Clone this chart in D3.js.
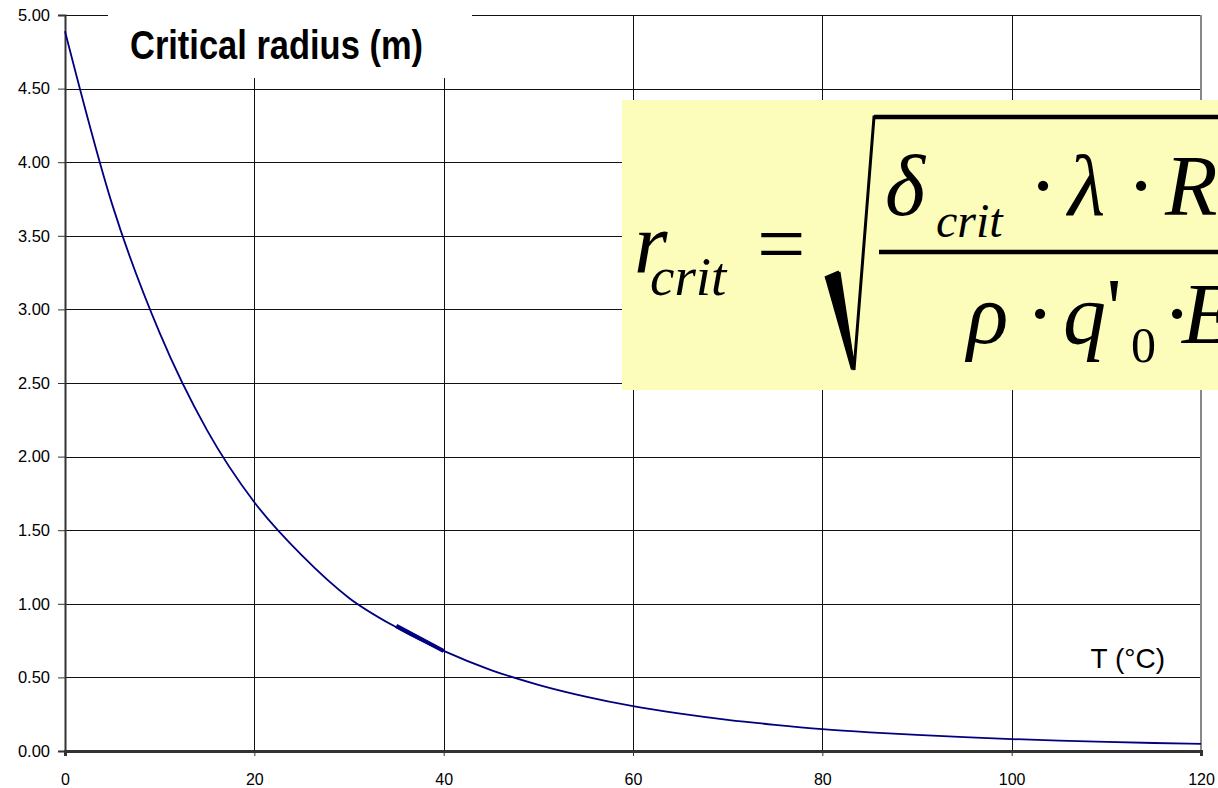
<!DOCTYPE html>
<html>
<head>
<meta charset="utf-8">
<script src="https://cdn.jsdelivr.net/npm/d3@7"></script>
<style>
  html, body { margin: 0; padding: 0; background: #fff; }
  svg { display: block; }
</style>
</head>
<body>
<div id="chart"></div>
<script>
// temperature (°C) and critical radius (m), every 5 degrees
const temps = [0, 5, 10, 15, 20, 25, 30, 35, 40, 45, 50, 55, 60, 65, 70, 75, 80, 85, 90, 95, 100, 105, 110, 115, 120]
const radius = [4.89, 3.71, 2.84, 2.18, 1.69, 1.33, 1.04, 0.84, 0.68, 0.55, 0.45, 0.37, 0.305, 0.254, 0.212, 0.178, 0.149, 0.127, 0.109, 0.094, 0.081, 0.0706, 0.062, 0.0545, 0.048]
// short overlapping segment that shows up bolder between 35 and 40
const segTemps = [35, 40]
const segRadius = [0.85, 0.68]

const xTicks = [0, 20, 40, 60, 80, 100, 120]
const yTicks = [0, 0.5, 1, 1.5, 2, 2.5, 3, 3.5, 4, 4.5, 5]

const width = 1218, height = 788
const margin = {left: 65, right: 17, top: 15, bottom: 37}

const svg = d3.select('#chart').append('svg')
  .attr('width', width)
  .attr('height', height)
  .style('font-family', '"Liberation Sans", Arial, sans-serif')

const x = d3.scaleLinear()
  .domain([0, 120])
  .range([margin.left, width - margin.right])

const y = d3.scaleLinear()
  .domain([0, 5])
  .range([height - margin.bottom, margin.top])

// gridlines
const grid = svg.append('g').attr('class', 'grid')
grid.selectAll('.hgrid')
  .data(yTicks.filter(d => d > 0))
  .join('line')
  .attr('x1', x(0))
  .attr('x2', x(120))
  .attr('y1', d => Math.round(y(d)) + 0.5)
  .attr('y2', d => Math.round(y(d)) + 0.5)
  .attr('stroke', '#111')
  .attr('stroke-width', 1)

grid.selectAll('.vgrid')
  .data(xTicks.filter(d => d > 0 && d < 120))
  .join('line')
  .attr('x1', d => Math.round(x(d)) + 0.5)
  .attr('x2', d => Math.round(x(d)) + 0.5)
  .attr('y1', y(5))
  .attr('y2', y(0))
  .attr('stroke', '#111')
  .attr('stroke-width', 1)

// right border of the plot area
svg.append('line')
  .attr('x1', x(120)).attr('x2', x(120))
  .attr('y1', y(5)).attr('y2', y(0))
  .attr('stroke', '#888')
  .attr('stroke-width', 2)

// white box behind the title hides the gridlines
svg.append('rect')
  .attr('x', 108).attr('y', 0)
  .attr('width', 364).attr('height', 78)
  .attr('fill', '#fff')

svg.append('text')
  .attr('x', 130)
  .attr('y', 59)
  .attr('font-size', 40)
  .attr('font-weight', 'bold')
  .attr('textLength', 293)
  .attr('lengthAdjust', 'spacingAndGlyphs')
  .attr('fill', '#000')
  .text('Critical radius (m)')

// axes
const yAxis = g => g
  .attr('transform', `translate(${margin.left},0)`)
  .call(d3.axisLeft(y).tickValues(yTicks).tickFormat(d3.format('.2f')).tickSize(7).tickPadding(8))
  .call(g => g.select('.domain').attr('stroke', '#333').attr('stroke-width', 2))
  .call(g => g.selectAll('.tick line').attr('stroke', '#333'))
  .call(g => g.selectAll('.tick text').attr('font-size', 16.5).attr('fill', '#000'))

const xAxis = g => g
  .attr('transform', `translate(0,${height - margin.bottom})`)
  .call(d3.axisBottom(x).tickValues(xTicks).tickSize(5).tickPadding(18))
  .call(g => g.select('.domain').attr('stroke', '#333').attr('stroke-width', 3))
  .call(g => g.selectAll('.tick line').attr('stroke', '#333'))
  .call(g => g.selectAll('.tick text').attr('font-size', 16).attr('fill', '#000'))

svg.append('g').attr('class', 'axis').call(yAxis)
svg.append('g').attr('class', 'axis').call(xAxis)

svg.append('text')
  .attr('x', 1165)
  .attr('y', 668)
  .attr('text-anchor', 'end')
  .attr('font-size', 28)
  .attr('fill', '#000')
  .text('T (°C)')

// data line
const line = d3.line()
  .curve(d3.curveMonotoneX)
  .x(d => x(d[0]))
  .y(d => y(d[1]))

svg.append('path')
  .datum(d3.zip(temps, radius))
  .attr('fill', 'none')
  .attr('stroke', '#000080')
  .attr('stroke-width', 1.8)
  .attr('d', line)

svg.append('path')
  .datum(d3.zip(segTemps, segRadius))
  .attr('fill', 'none')
  .attr('stroke', '#000080')
  .attr('stroke-width', 4)
  .attr('d', line)

// formula box (runs off the right edge of the page)
const box = svg.append('g')
  .attr('transform', 'translate(622,100)')
  .style('font-family', '"Liberation Serif", "Times New Roman", serif')
  .attr('fill', '#000')

box.append('rect')
  .attr('width', 600).attr('height', 290)
  .attr('fill', '#fdfdbb')

const sym = (txt, px, py, size, italic = true, anchor = 'start') => box.append('text')
  .attr('x', px).attr('y', py)
  .attr('font-size', size)
  .attr('font-style', italic ? 'italic' : 'normal')
  .attr('text-anchor', anchor)
  .text(txt)

sym('r', 12, 173, 86)
sym('crit', 28, 195, 55)
sym('=', 135, 173, 86, false)

// radical sign
box.append('path')
  .attr('d', 'M203,178 L217,171 L233,268 L229,270 Z')
  .attr('fill', '#000')
box.append('path')
  .attr('d', 'M203,178 L217,172 M217,172 L232,270 L252,17 L600,17')
  .attr('fill', 'none')
  .attr('stroke', '#000')
  .attr('stroke-width', 3)
  .attr('stroke-linejoin', 'miter')
box.append('line')
  .attr('x1', 252).attr('x2', 600)
  .attr('y1', 17).attr('y2', 17)
  .attr('stroke', '#000').attr('stroke-width', 4.5)

// fraction bar
box.append('line')
  .attr('x1', 257).attr('x2', 600)
  .attr('y1', 152).attr('y2', 152)
  .attr('stroke', '#000').attr('stroke-width', 4.5)

// numerator
sym('δ', 263, 115, 86)
sym('crit', 314, 137, 48)
sym('·', 421, 115, 86, false, 'middle')
sym('λ', 446, 115, 86)
sym('·', 519, 115, 86, false, 'middle')
sym('R', 543, 115, 86)

// denominator
sym('ρ', 345, 243, 86)
sym('·', 418, 243, 86, false, 'middle')
sym('q', 441, 243, 86)
sym("'", 492, 237, 84, false, 'middle')
sym('0', 509, 262, 50, false)
sym('·', 555, 243, 86, false, 'middle')
sym('E', 560, 243, 86)
</script>
</body>
</html>
